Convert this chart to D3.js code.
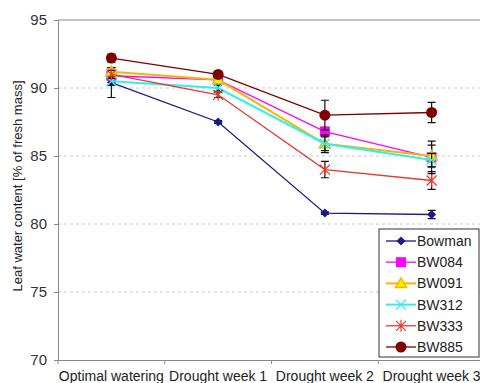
<!DOCTYPE html>
<html>
<head>
<meta charset="utf-8">
<script src="https://cdn.jsdelivr.net/npm/d3@7"></script>
<style>
	body { margin: 0; background: #fff; }
	svg { display: block; font-family: "Liberation Sans", Arial, sans-serif; }
</style>
</head>
<body>
<svg width="480" height="383"></svg>
<script>
'use strict';

// categories along the x axis
var stages = ['Optimal watering', 'Drought week 1', 'Drought week 2', 'Drought week 3'];

// mean leaf water content per line
var bowman = [90.4, 87.5, 80.8, 80.7];
var bw084 = [90.9, 90.6, 86.8, 84.9];
var bw091 = [91.2, 90.6, 85.9, 85.0];
var bw312 = [90.5, 90.0, 85.9, 84.7];
var bw333 = [91.0, 89.5, 84.0, 83.2];
var bw885 = [92.2, 91.0, 88.0, 88.2];

// standard errors
var bowmanErr = [1.1, 0.1, 0.1, 0.3];
var bw084Err = [0.3, 0.2, 0.3, 1.2];
var bw091Err = [0.3, 0.2, 0.65, 0.8];
var bw312Err = [0.3, 0.2, 0.5, 0.5];
var bw333Err = [0.3, 0.2, 0.6, 0.65];
var bw885Err = [0.3, 0.2, 1.1, 0.75];

var yTicks = [70, 75, 80, 85, 90, 95];

var series = [
	{ name: 'Bowman', values: bowman, err: bowmanErr, color: '#1a1a88', symbol: 'diamond', width: 1.3 },
	{ name: 'BW084', values: bw084, err: bw084Err, color: '#ff00ff', symbol: 'square', width: 1.3 },
	{ name: 'BW091', values: bw091, err: bw091Err, color: '#f2b705', symbol: 'triangle', width: 2 },
	{ name: 'BW312', values: bw312, err: bw312Err, color: '#33eeee', symbol: 'cross', width: 2 },
	{ name: 'BW333', values: bw333, err: bw333Err, color: '#e8382e', symbol: 'star', width: 1.3 },
	{ name: 'BW885', values: bw885, err: bw885Err, color: '#800000', symbol: 'circle', width: 1.3 }
];

var svg = d3.select('svg');
var margin = { left: 58, top: 20 };
var plotW = 427, plotH = 340;

var x = d3.scaleBand().domain(stages).range([margin.left, margin.left + plotW]);
var y = d3.scaleLinear().domain([70, 95]).range([margin.top + plotH, margin.top]);
var cx = function (i) { return x(stages[i]) + x.bandwidth() / 2; };

// dashed grid
svg.append('g')
	.selectAll('line')
	.data(yTicks.filter(function (t) { return t > 70 && t < 95; }))
	.enter()
	.append('line')
	.attr('x1', margin.left).attr('x2', margin.left + plotW)
	.attr('y1', function (d) { return y(d); }).attr('y2', function (d) { return y(d); })
	.attr('stroke', '#c8c8c8').attr('stroke-dasharray', '3,3');

// top border
svg.append('line')
	.attr('x1', margin.left).attr('x2', margin.left + plotW)
	.attr('y1', y(95)).attr('y2', y(95))
	.attr('stroke', '#888');

var yAxis = svg.append('g')
	.attr('transform', 'translate(' + margin.left + ',0)')
	.call(d3.axisLeft(y).tickValues(yTicks).tickSize(4).tickPadding(7));
yAxis.selectAll('text').attr('font-size', 15).attr('fill', '#333').style('font-family', null);

var xAxis = svg.append('g')
	.attr('transform', 'translate(0,' + (margin.top + plotH) + ')')
	.call(d3.axisBottom(x).tickSize(0).tickPadding(11));
xAxis.selectAll('text').attr('font-size', 14).attr('fill', '#222').style('font-family', null);

// category boundary ticks
xAxis.selectAll('line.sep')
	.data(stages)
	.enter()
	.append('line')
	.attr('class', 'sep')
	.attr('x1', function (d) { return x(d); }).attr('x2', function (d) { return x(d); })
	.attr('y1', 0).attr('y2', 4)
	.attr('stroke', '#888');

svg.selectAll('.domain').attr('stroke', '#888');
svg.selectAll('.tick line').attr('stroke', '#888');

svg.append('text')
	.attr('transform', 'translate(17,186) rotate(-90)')
	.attr('text-anchor', 'middle')
	.attr('dy', '0.35em')
	.attr('font-size', 13)
	.attr('fill', '#222')
	.text('Leaf water content [% of fresh mass]');

/**
 * Draw a marker shape centred on 0,0
 */
function drawSymbol(g, s) {
	if (s.symbol === 'diamond') {
		g.append('path').attr('d', 'M0,-4.5L4.5,0L0,4.5L-4.5,0Z').attr('fill', s.color);
	} else if (s.symbol === 'square') {
		g.append('rect').attr('x', -5).attr('y', -5).attr('width', 10).attr('height', 10).attr('fill', s.color);
	} else if (s.symbol === 'triangle') {
		g.append('path').attr('d', 'M0,-5.5L5.5,4L-5.5,4Z')
			.attr('fill', '#ffee00').attr('stroke', s.color).attr('stroke-width', 1.5);
	} else if (s.symbol === 'cross') {
		g.append('path').attr('d', 'M-5,-5L5,5M-5,5L5,-5').attr('stroke', s.color).attr('stroke-width', 1.3);
	} else if (s.symbol === 'star') {
		g.append('path').attr('d', 'M-5,-5L5,5M-5,5L5,-5M0,-6L0,6').attr('stroke', s.color).attr('stroke-width', 1.2);
	} else {
		g.append('circle').attr('r', 5.5).attr('fill', s.color);
	}
}

var line = d3.line()
	.x(function (d, i) { return cx(i); })
	.y(function (d) { return y(d); });

var groups = svg.selectAll('g.series')
	.data(series)
	.enter()
	.append('g')
	.attr('class', 'series');

groups.append('path')
	.attr('fill', 'none')
	.attr('stroke', function (d) { return d.color; })
	.attr('stroke-width', function (d) { return d.width; })
	.attr('d', function (d) { return line(d.values); });

// error bars
groups.each(function (s) {
	var g = d3.select(this);
	s.values.forEach(function (v, i) {
		var e = s.err[i];
		var px = cx(i);
		g.append('path')
			.attr('d', 'M' + px + ',' + y(v - e) + 'L' + px + ',' + y(v + e) +
				'M' + (px - 4) + ',' + y(v - e) + 'L' + (px + 4) + ',' + y(v - e) +
				'M' + (px - 4) + ',' + y(v + e) + 'L' + (px + 4) + ',' + y(v + e))
			.attr('stroke', '#111').attr('stroke-width', 1.2).attr('fill', 'none');
	});
});

groups.each(function (s) {
	var g = d3.select(this);
	s.values.forEach(function (v, i) {
		drawSymbol(g.append('g').attr('transform', 'translate(' + cx(i) + ',' + y(v) + ')'), s);
	});
});

// legend
var legend = svg.append('g').attr('transform', 'translate(379,229)');
legend.append('rect')
	.attr('width', 100).attr('height', 128)
	.attr('fill', '#fff').attr('stroke', '#333');
var items = legend.selectAll('g.item')
	.data(series)
	.enter()
	.append('g')
	.attr('class', 'item')
	.attr('transform', function (d, i) { return 'translate(0,' + (12 + i * 21.2) + ')'; });
items.append('line')
	.attr('x1', 7).attr('x2', 37)
	.attr('stroke', function (d) { return d.color; })
	.attr('stroke-width', function (d) { return d.width; });
items.each(function (s) {
	drawSymbol(d3.select(this).append('g').attr('transform', 'translate(22,0)'), s);
});
items.append('text')
	.attr('x', 38).attr('dy', '0.35em')
	.attr('font-size', 14).attr('fill', '#222')
	.text(function (d) { return d.name; });
</script>
</body>
</html>
